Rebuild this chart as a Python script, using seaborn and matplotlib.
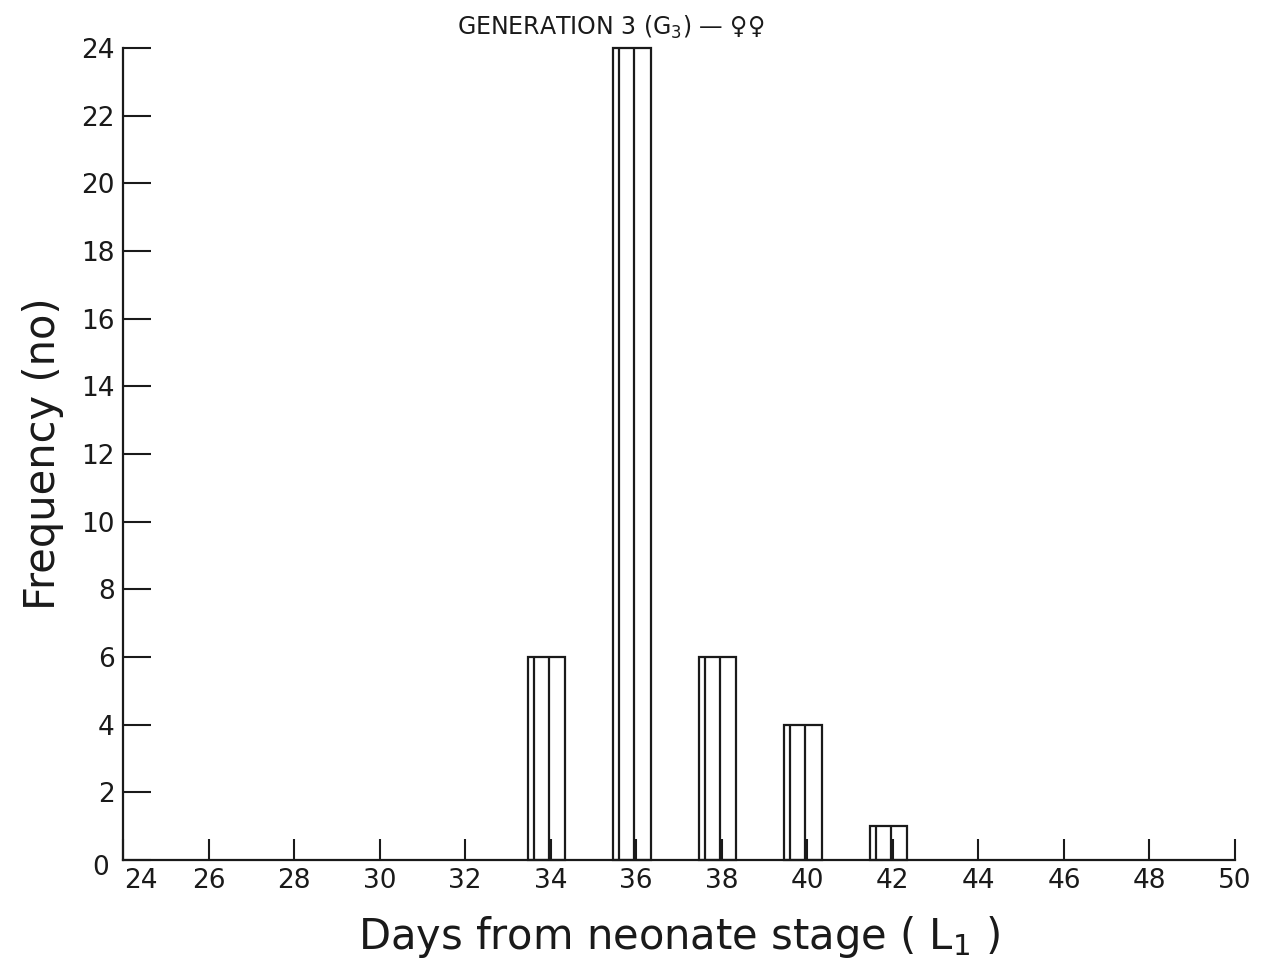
import matplotlib
matplotlib.use("Agg")
import matplotlib.pyplot as plt
import matplotlib.transforms as mtransforms
import seaborn as sns
import pandas as pd

# Development time of generation-3 females (days from L1), counts per 2-day class
days = [34, 36, 38, 40, 42]
counts = [6, 24, 6, 4, 1]
x_ticks = list(range(24, 51, 2))
y_ticks = list(range(0, 25, 2))

sns.set_style("ticks")
plt.rcParams["font.family"] = ["DejaVu Sans"]

fig = plt.figure(figsize=(12.68, 9.64), dpi=100)
ax = fig.add_axes([0.097, 0.108, 0.877, 0.842])

# bars sit slightly left of their class mark, as on the original plotter output
df = pd.DataFrame({"day": [d - 0.1 for d in days], "count": counts})
sns.barplot(data=df, x="day", y="count", native_scale=True, width=0.435,
            fill=False, color="black", linewidth=1.6, ax=ax, err_kws={"linewidth": 0})

ink = "#1a1a1a"
for p in ax.patches:
    p.set_edgecolor(ink)
    p.set_facecolor("none")
    p.set_clip_on(False)
    x0, w, h = p.get_x(), p.get_width(), p.get_height()
    ax.vlines([x0 + 0.16 * w, x0 + 0.56 * w], 0, h, colors=ink, linewidth=1.6, clip_on=False)

ax.set_xlim(24, 50)
ax.set_ylim(0, 24)
ax.set_xticks(x_ticks)
ax.set_yticks(y_ticks)
ax.tick_params(axis="y", direction="in", length=20, width=1.5, labelsize=19, pad=6, colors=ink)
ax.tick_params(axis="x", direction="in", length=15, width=1.5, labelsize=19, pad=6, colors=ink)
sns.despine(ax=ax)
for s in ("left", "bottom"):
    ax.spines[s].set_linewidth(1.6)
    ax.spines[s].set_color(ink)

# the shared origin: nudge "0" down-left and "24" right so they do not collide
fig.canvas.draw()
ylab0 = ax.get_yticklabels()[0]
ylab0.set_transform(ylab0.get_transform() + mtransforms.ScaledTranslation(-4 / 72, -4 / 72, fig.dpi_scale_trans))
xlab0 = ax.get_xticklabels()[0]
xlab0.set_transform(xlab0.get_transform() + mtransforms.ScaledTranslation(13 / 72, 0, fig.dpi_scale_trans))

ax.set_xlabel("Days from neonate stage ( L$_1$ )", fontsize=30, color=ink, labelpad=14)
ax.set_ylabel("Frequency (no)", fontsize=30, color=ink, labelpad=12)
fig.text(0.482, 0.972, "GENERATION 3 (G$_3$) \u2014 \u2640\u2640", ha="center", va="center",
         fontsize=17, color=ink)

fig.savefig("out.png", dpi=100, facecolor="white")
